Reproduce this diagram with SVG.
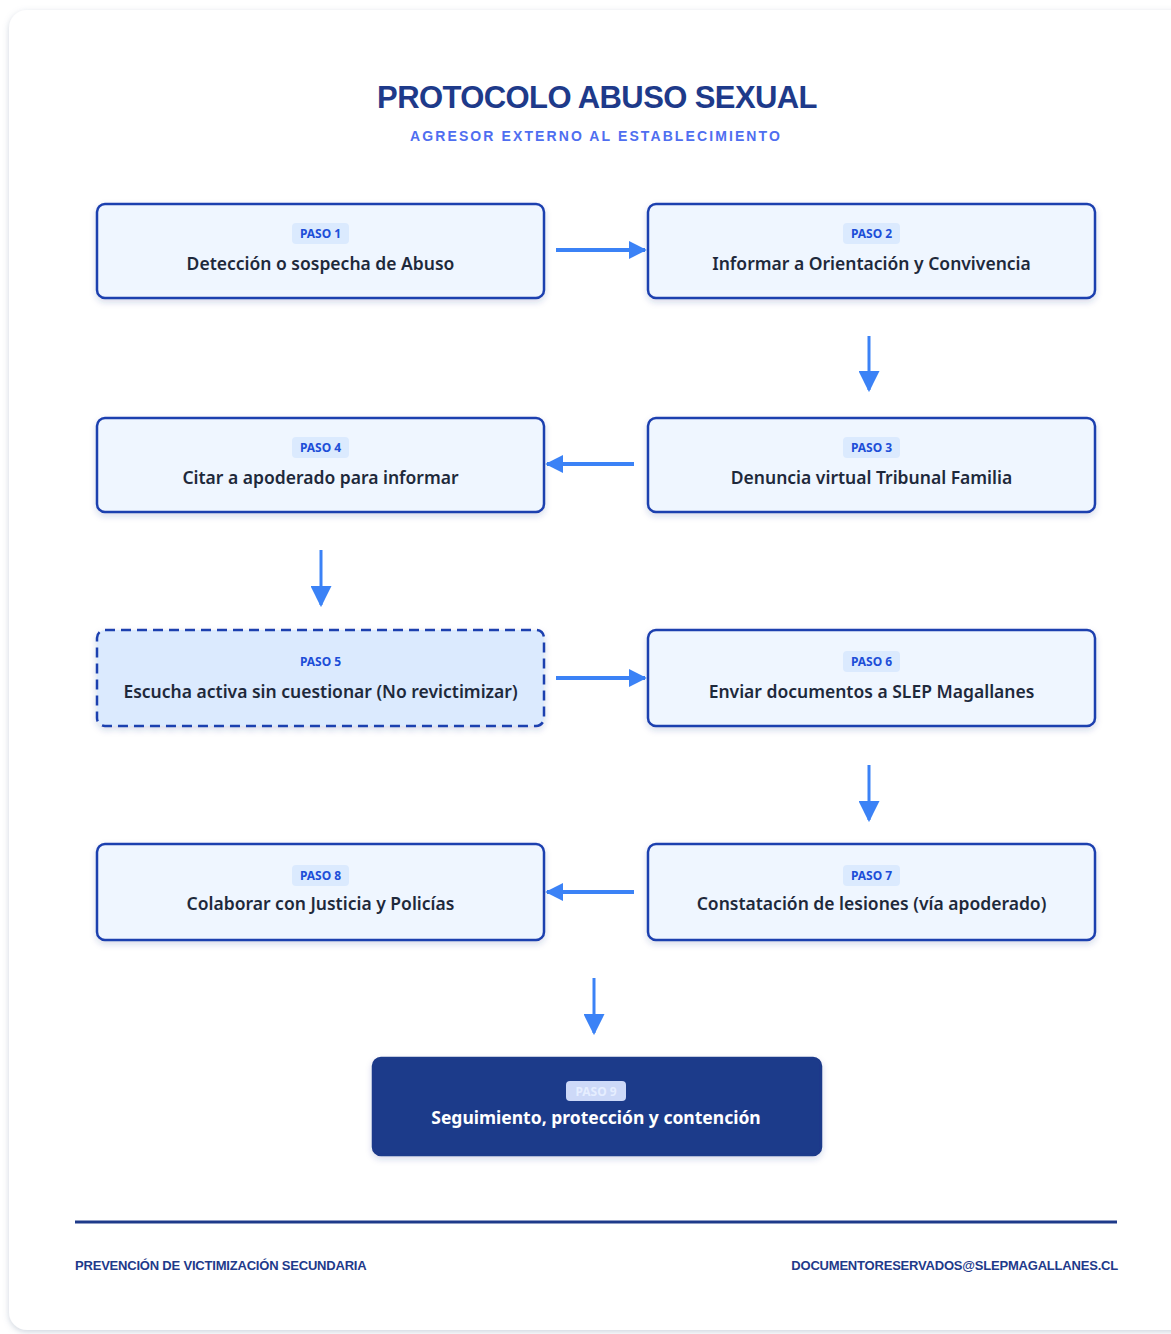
<svg xmlns="http://www.w3.org/2000/svg" width="1171" height="1334" viewBox="0 0 1171 1334">
  <defs>
    <filter id="cardShadow" x="-5%" y="-5%" width="110%" height="110%">
      <feDropShadow dx="0" dy="2" stdDeviation="3" flood-color="#94a3b8" flood-opacity="0.45"/>
    </filter>
    <filter id="nodeShadow" x="-5%" y="-10%" width="110%" height="130%">
      <feDropShadow dx="0" dy="3" stdDeviation="3" flood-color="#1e3a8a" flood-opacity="0.18"/>
    </filter>
    <marker id="ah" viewBox="0 0 10 10" refX="9" refY="5" markerWidth="4.5" markerHeight="4.5" markerUnits="strokeWidth" orient="auto">
      <path d="M0,0 L10,5 L0,10 Z" fill="#3b82f6"/>
    </marker>
    <marker id="ahd" viewBox="0 0 10 10" refX="9" refY="5" markerWidth="7" markerHeight="7" markerUnits="strokeWidth" orient="auto">
      <path d="M0,0 L10,5 L0,10 Z" fill="#3b82f6"/>
    </marker>
  </defs>
  <style>
    .node { fill: #eff6ff; stroke: #1e40af; stroke-width: 2.5; filter: url(#nodeShadow); }
    .dashed { fill: #dbeafe; stroke-dasharray: 10 6; }
    .final { fill: #1e3a8a; stroke: #1e3a8a; }
    .badge { fill: #dbeafe; }
    .badgeText { font-family: "Noto Sans", "Open Sans", sans-serif; font-weight: 700; font-size: 12px; fill: #1d4ed8; text-anchor: middle; }
    .main { font-family: "Noto Sans", "Open Sans", sans-serif; font-weight: 600; font-size: 17.5px; fill: #1e293b; text-anchor: middle; }
    .conn { stroke: #3b82f6; fill: none; }
    .h { stroke-width: 4; marker-end: url(#ah); }
    .v { stroke-width: 3; marker-end: url(#ahd); }
    .foot { font-family: "Liberation Sans", Arial, sans-serif; font-weight: 700; font-size: 13px; fill: #1e3a8a; letter-spacing: -0.2px; }
  </style>

  <rect x="0" y="0" width="1171" height="1334" fill="#ffffff"/>
  <rect x="9" y="10" width="1190" height="1320" rx="18" fill="#ffffff" filter="url(#cardShadow)"/>

  <g id="header">
    <text x="597" y="108" font-family="Liberation Sans, Arial, sans-serif" font-weight="900" font-size="31" fill="#1e3a8a" text-anchor="middle" letter-spacing="-0.6">PROTOCOLO ABUSO SEXUAL</text>
    <text x="596" y="141" font-family="Liberation Sans, Arial, sans-serif" font-weight="700" font-size="14" fill="#4f6ef0" text-anchor="middle" letter-spacing="2.1">AGRESOR EXTERNO AL ESTABLECIMIENTO</text>
  </g>

  <g id="connectors">
    <line class="conn h" x1="556" y1="250" x2="645" y2="250"/>
    <line class="conn v" x1="869" y1="336" x2="869" y2="390"/>
    <line class="conn h" x1="634" y1="464" x2="547" y2="464"/>
    <line class="conn v" x1="321" y1="550" x2="321" y2="605"/>
    <line class="conn h" x1="556" y1="678" x2="645" y2="678"/>
    <line class="conn v" x1="869" y1="765" x2="869" y2="820"/>
    <line class="conn h" x1="634" y1="892" x2="547" y2="892"/>
    <line class="conn v" x1="594" y1="978" x2="594" y2="1033"/>
  </g>

  <g id="node1">
    <rect class="node" x="97" y="204" width="447" height="94" rx="8"/>
    <rect class="badge" x="292" y="223" width="57" height="21" rx="4"/>
    <text class="badgeText" x="320.5" y="238">PASO 1</text>
    <text class="main" x="320.5" y="270">Detección o sospecha de Abuso</text>
  </g>
  <g id="node2">
    <rect class="node" x="648" y="204" width="447" height="94" rx="8"/>
    <rect class="badge" x="843" y="223" width="57" height="21" rx="4"/>
    <text class="badgeText" x="871.5" y="238">PASO 2</text>
    <text class="main" x="871.5" y="270">Informar a Orientación y Convivencia</text>
  </g>
  <g id="node3">
    <rect class="node" x="648" y="418" width="447" height="94" rx="8"/>
    <rect class="badge" x="843" y="437" width="57" height="21" rx="4"/>
    <text class="badgeText" x="871.5" y="452">PASO 3</text>
    <text class="main" x="871.5" y="484">Denuncia virtual Tribunal Familia</text>
  </g>
  <g id="node4">
    <rect class="node" x="97" y="418" width="447" height="94" rx="8"/>
    <rect class="badge" x="292" y="437" width="57" height="21" rx="4"/>
    <text class="badgeText" x="320.5" y="452">PASO 4</text>
    <text class="main" x="320.5" y="484">Citar a apoderado para informar</text>
  </g>
  <g id="node5">
    <rect class="node dashed" x="97" y="630" width="447" height="96" rx="8"/>
    <rect class="badge" x="292" y="651" width="57" height="21" rx="4"/>
    <text class="badgeText" x="320.5" y="666">PASO 5</text>
    <text class="main" x="320.5" y="698">Escucha activa sin cuestionar (No revictimizar)</text>
  </g>
  <g id="node6">
    <rect class="node" x="648" y="630" width="447" height="96" rx="8"/>
    <rect class="badge" x="843" y="651" width="57" height="21" rx="4"/>
    <text class="badgeText" x="871.5" y="666">PASO 6</text>
    <text class="main" x="871.5" y="698">Enviar documentos a SLEP Magallanes</text>
  </g>
  <g id="node7">
    <rect class="node" x="648" y="844" width="447" height="96" rx="8"/>
    <rect class="badge" x="843" y="865" width="57" height="21" rx="4"/>
    <text class="badgeText" x="871.5" y="880">PASO 7</text>
    <text class="main" x="871.5" y="910">Constatación de lesiones (vía apoderado)</text>
  </g>
  <g id="node8">
    <rect class="node" x="97" y="844" width="447" height="96" rx="8"/>
    <rect class="badge" x="292" y="865" width="57" height="21" rx="4"/>
    <text class="badgeText" x="320.5" y="880">PASO 8</text>
    <text class="main" x="320.5" y="910">Colaborar con Justicia y Policías</text>
  </g>
  <g id="node9">
    <rect class="node final" x="373" y="1058" width="448" height="97" rx="8"/>
    <rect x="566" y="1081" width="60" height="20" rx="4" fill="#cdd9f8"/>
    <text class="badgeText" x="596" y="1096" style="fill:#e6eeff">PASO 9</text>
    <text class="main" x="596" y="1124" style="fill:#ffffff;font-weight:700">Seguimiento, protección y contención</text>
  </g>

  <g id="footer">
    <line x1="75" y1="1222" x2="1117" y2="1222" stroke="#1e3a8a" stroke-width="3"/>
    <text class="foot" x="75" y="1270">PREVENCIÓN DE VICTIMIZACIÓN SECUNDARIA</text>
    <text class="foot" x="1118" y="1270" text-anchor="end">DOCUMENTORESERVADOS@SLEPMAGALLANES.CL</text>
  </g>
</svg>
